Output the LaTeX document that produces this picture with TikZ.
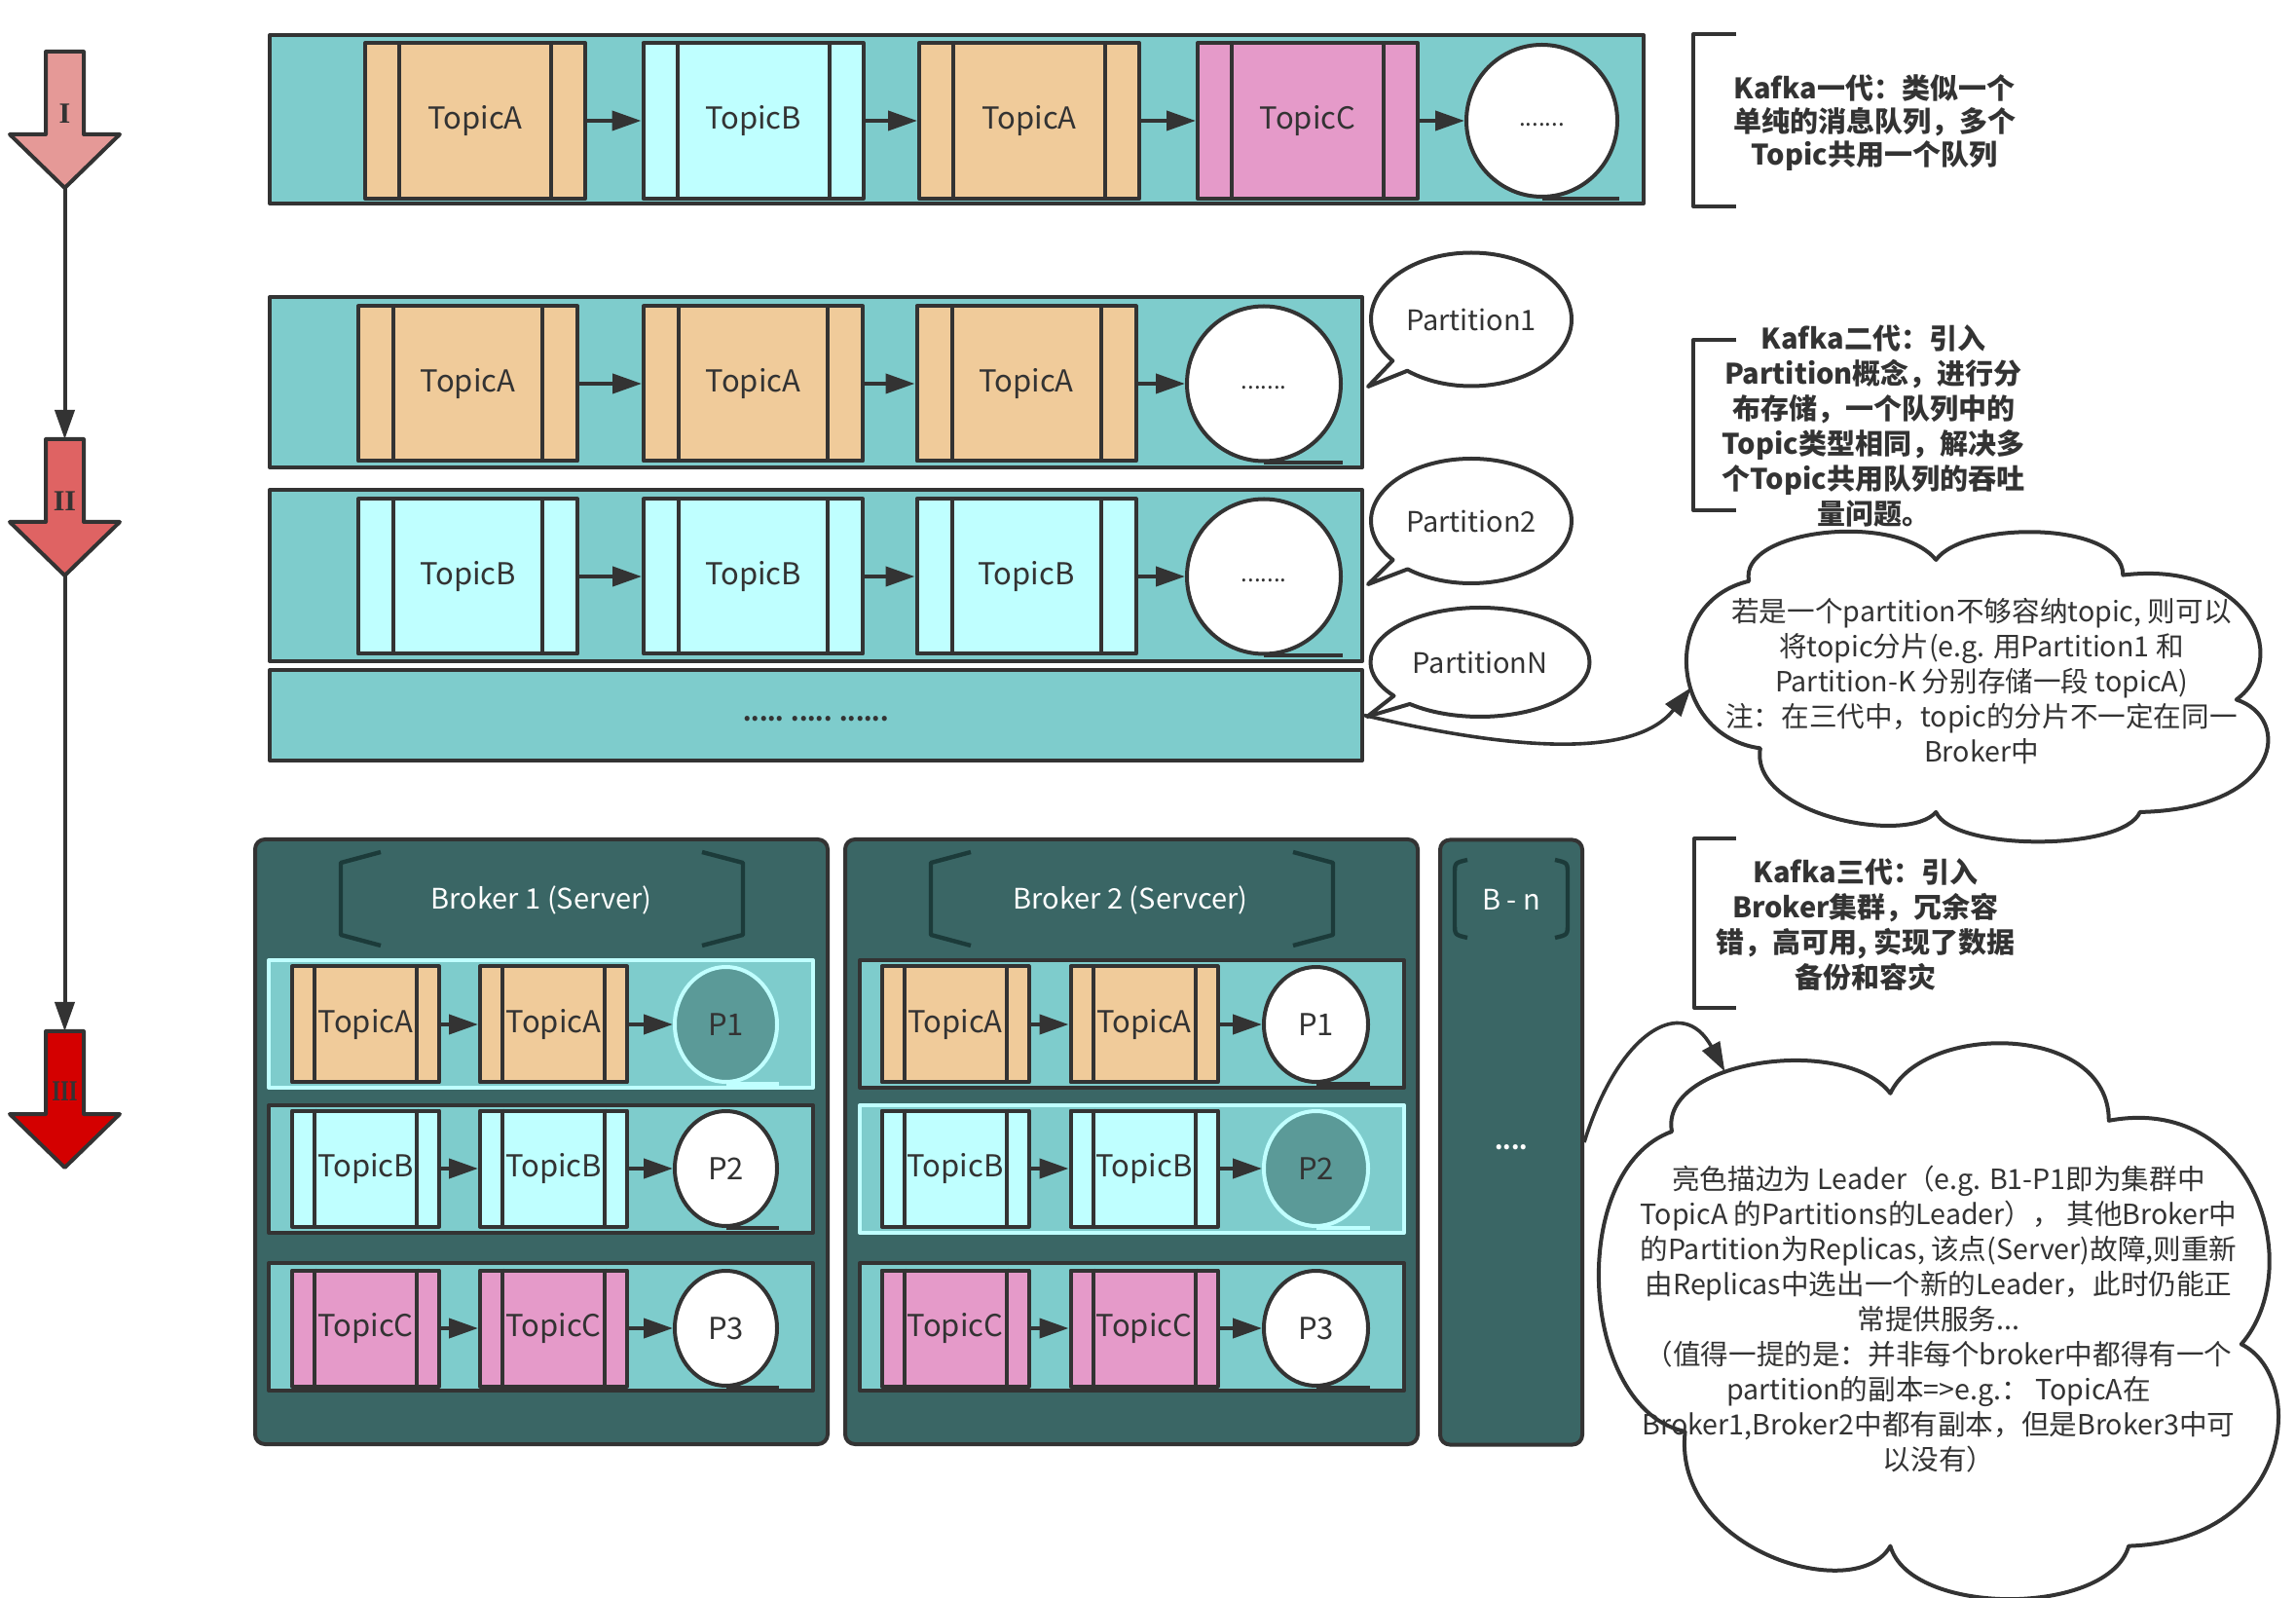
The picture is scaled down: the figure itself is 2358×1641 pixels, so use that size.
\documentclass[tikz,border=0pt]{standalone}
\usepackage{fontspec}
\setmainfont{Noto Sans CJK SC}
\newfontfamily\romfont{Liberation Serif}
\usetikzlibrary{arrows.meta,shapes.geometric,shapes.callouts}
\definecolor{cont}{HTML}{7ECCCC}
\definecolor{ta}{HTML}{F0CB9A}
\definecolor{tbc}{HTML}{BFFFFF}
\definecolor{tcc}{HTML}{E59AC9}
\definecolor{brk}{HTML}{3A6665}
\definecolor{brkdark}{HTML}{1C3B3A}
\definecolor{ink}{HTML}{333333}
\definecolor{hl}{HTML}{C0FFFF}
\definecolor{hlfill}{HTML}{5B9A98}
\definecolor{arI}{HTML}{E59997}
\definecolor{arII}{HTML}{DF6363}
\definecolor{arIII}{HTML}{D40000}

\newcommand\topicbox[8]{%
  \node[tb, fill=#7, minimum width=#4pt, minimum height=#5pt] (#1) at (#2,#3) {#8};
  \draw[ink, line width=2pt] ([xshift=#6pt]#1.north west) -- ([xshift=#6pt]#1.south west)
    ([xshift=-#6pt]#1.north east) -- ([xshift=-#6pt]#1.south east);}
\newcommand\tapenode[7]{%
  \node[tapest, minimum width=#4pt, minimum height=#5pt, #6] (#1) at (#2,#3) {#7};
  \draw[ink, line width=2pt, #6] (#1.south) -- (#1.south -| #1.east);}
\newcommand\blockarrow[3]{%
  \draw[ink, line width=2pt, fill=#3] (47,#2) -- (86,#2) -- (86,#2+85) -- (123,#2+85)
    -- (66.5,#2+140) -- (10,#2+85) -- (47,#2+85) -- cycle;
  \coordinate (#1top) at (66.5,#2);
  \coordinate (#1tip) at (66.5,#2+140);}
\newcommand\dotstxt{{\fontsize{12}{14}\selectfont\vphantom{Ag}.......}}

\begin{document}
\begin{tikzpicture}[x=0.5pt,y=-0.5pt,line join=round,
  contst/.style={draw=ink, line width=2pt, fill=cont, inner sep=0, rectangle},
  tb/.style={draw=ink, line width=2pt, inner sep=0, rectangle, text=ink, font=\fontsize{15.5}{18}\selectfont},
  tapest/.style={draw=ink, line width=2pt, fill=white, ellipse, inner sep=0, text=ink, font=\fontsize{15.5}{18}\selectfont},
  flow/.style={draw=ink, line width=2pt, -{Triangle[length=15pt,width=10pt]}},
  curv/.style={draw=ink, line width=1.8pt, -{Triangle[length=15pt,width=10pt]}},
  callst/.style={ellipse callout, draw=ink, line width=2pt, fill=white, inner sep=0, text=ink, font=\fontsize{14.5}{17}\selectfont, callout pointer arc=12},
  brokst/.style={draw=ink, line width=2pt, fill=brk, rounded corners=5pt, inner sep=0, rectangle},
  bkbr/.style={draw=brkdark, line width=2.2pt},
  btitle/.style={text=white, inner sep=0, font=\fontsize{14.5}{17}\selectfont},
  numlbl/.style={text=ink, inner sep=0, font=\romfont\bfseries\fontsize{15}{15}\selectfont},
  kbr/.style={draw=ink, line width=2pt},
  ktxt/.style={text=ink, align=center, inner sep=0, font=\bfseries\fontsize{14.5}{18}\selectfont},
  ctxt/.style={text=ink, align=center, inner sep=0, font=\fontsize{14.3}{18}\selectfont}]
\fill[white] (0,0) rectangle (2358,1641);
\useasboundingbox (0,0) rectangle (2358,1641);

% ---------- timeline ----------
\blockarrow{aI}{53}{arI}
\blockarrow{aII}{451}{arII}
\blockarrow{aIII}{1059}{arIII}
\node[numlbl] (lI) at (66.5,117) {I};
\node[numlbl] (lII) at (66.5,515) {II};
\node[numlbl] (lIII) at (66.5,1121) {\scalebox{0.75}[1]{III}};
\draw[flow] (aItip) -- (aIItop);
\draw[flow] (aIItip) -- (aIIItop);

% ---------- generation I ----------
\node[contst, minimum width=705.5pt, minimum height=86.5pt] (rowI) at (982.5,122.5) {};
\topicbox{iA1}{488}{124}{113}{80}{18.5}{ta}{TopicA}
\topicbox{iB}{773.5}{124}{113}{80}{18.5}{tbc}{TopicB}
\topicbox{iA2}{1057}{124}{113}{80}{18.5}{ta}{TopicA}
\topicbox{iC}{1343}{124}{113}{80}{18.5}{tcc}{TopicC}
\tapenode{iE}{1583.5}{124}{77.5}{78}{}{\dotstxt}
\draw[flow] (iA1.east) -- (iB.west);
\draw[flow] (iB.east) -- (iA2.west);
\draw[flow] (iA2.east) -- (iC.west);
\draw[flow] (iC.east) -- (iE.west);

\draw[kbr] (1783,35) -- (1739,35) -- (1739,212) -- (1783,212);
\node[ktxt, font=\bfseries\fontsize{14.5}{17}\selectfont] (kI) at (1925,126) {Kafka一代：类似一个\\单纯的消息队列，多个\\Topic共用一个队列};

% ---------- generation II ----------
\node[contst, minimum width=561pt, minimum height=87.5pt] (rowIIa) at (838,392.5) {};
\topicbox{iiA1}{480.5}{394}{112.5}{79.5}{19}{ta}{TopicA}
\topicbox{iiA2}{773.5}{394}{112.5}{79.5}{19}{ta}{TopicA}
\topicbox{iiA3}{1054}{394}{112.5}{79.5}{19}{ta}{TopicA}
\tapenode{iiEa}{1298}{394}{79}{79.5}{}{\dotstxt}
\draw[flow] (iiA1.east) -- (iiA2.west);
\draw[flow] (iiA2.east) -- (iiA3.west);
\draw[flow] (iiA3.east) -- (iiEa.west);

\node[contst, minimum width=561pt, minimum height=88pt] (rowIIb) at (838,591) {};
\topicbox{iiB1}{480.5}{592}{112.5}{79.5}{19}{tbc}{TopicB}
\topicbox{iiB2}{773.5}{592}{112.5}{79.5}{19}{tbc}{TopicB}
\topicbox{iiB3}{1054}{592}{112.5}{79.5}{19}{tbc}{TopicB}
\tapenode{iiEb}{1298}{592}{79}{79.5}{}{\dotstxt}
\draw[flow] (iiB1.east) -- (iiB2.west);
\draw[flow] (iiB2.east) -- (iiB3.west);
\draw[flow] (iiB3.east) -- (iiEb.west);

\node[contst, minimum width=561pt, minimum height=46.5pt, text=ink, font=\bfseries\fontsize{12}{14}\selectfont] (rowIIc) at (838,734.5) {\vphantom{Ag}..... ..... ......};

\node[callst, minimum width=103pt, minimum height=68.5pt, callout absolute pointer={(1405,397)}] (cp1) at (1511,328) {Partition1};
\node[callst, minimum width=103pt, minimum height=64pt, callout absolute pointer={(1405,600)}] (cp2) at (1511,535) {Partition2};
\node[callst, minimum width=112.5pt, minimum height=56pt, callout absolute pointer={(1404,736)}] (cpN) at (1520,680) {PartitionN};

% cloud 1
\begin{scope}[shift={(1738,550)},xscale=582,yscale=312]
  \draw[ink, line width=2pt, fill=white] (0.12,0.70) .. controls (-0.04,0.66) and (-0.06,0.22) .. (0.10,0.15)
    .. controls (0.08,-0.02) and (0.36,-0.08) .. (0.43,0.08)
    .. controls (0.48,-0.05) and (0.76,-0.05) .. (0.76,0.13)
    .. controls (0.98,0.08) and (1.06,0.40) .. (0.96,0.54)
    .. controls (1.06,0.60) and (1.04,0.90) .. (0.79,0.91)
    .. controls (0.76,1.04) and (0.46,1.04) .. (0.43,0.91)
    .. controls (0.38,1.02) and (0.10,0.92) .. (0.12,0.70) -- cycle;
  \coordinate (c1in) at (-0.002,0.50);
\end{scope}
\node[ctxt] (c1t) at (2035,700) {若是一个partition不够容纳topic, 则可以\\将topic分片(e.g. 用Partition1 和\\Partition-K 分别存储一段 topicA)\\注：在三代中，topic的分片不一定在同一\\Broker中};
\draw[curv] (rowIIc.east) .. controls (1560,772) and (1680,778) .. (c1in);

\draw[kbr] (1783,349) -- (1739,349) -- (1739,524) -- (1783,524);
\node[ktxt] (kII) at (1924,437) {Kafka二代：引入\\Partition概念，进行分\\布存储，一个队列中的\\Topic类型相同，解决多\\个Topic共用队列的吞吐\\量问题。};

% ---------- generation III ----------
% broker 1
\node[brokst, minimum width=294pt, minimum height=310.5pt] (bk1) at (556,1172.5) {};
\draw[bkbr] (391,875) -- (350,886) -- (350,960) -- (391,971);
\draw[bkbr] (721,875) -- (763,886) -- (763,960) -- (721,971);
\node[btitle] (bk1t) at (556,924) {Broker 1 (Server)};

\node[contst, draw=hl, minimum width=279.5pt, minimum height=65.5pt] (b1r1) at (555.5,1051.5) {};
\topicbox{b1a1}{375.5}{1052}{75.5}{59.5}{12.5}{ta}{TopicA}
\topicbox{b1a2}{568.5}{1052}{75.5}{59.5}{12.5}{ta}{TopicA}
\tapenode{b1p1}{745.5}{1052}{52.5}{59}{draw=hl,fill=hlfill}{P1}
\draw[flow] (b1a1.east) -- (b1a2.west);
\draw[flow] (b1a2.east) -- (b1p1.west);

\node[contst, minimum width=279.5pt, minimum height=65.5pt] (b1r2) at (555.5,1200.5) {};
\topicbox{b1b1}{375.5}{1200}{75.5}{59.5}{12.5}{tbc}{TopicB}
\topicbox{b1b2}{568.5}{1200}{75.5}{59.5}{12.5}{tbc}{TopicB}
\tapenode{b1p2}{745.5}{1200}{52.5}{59}{}{P2}
\draw[flow] (b1b1.east) -- (b1b2.west);
\draw[flow] (b1b2.east) -- (b1p2.west);

\node[contst, minimum width=279.5pt, minimum height=65.5pt] (b1r3) at (555.5,1362.5) {};
\topicbox{b1c1}{375.5}{1364}{75.5}{59.5}{12.5}{tcc}{TopicC}
\topicbox{b1c2}{568.5}{1364}{75.5}{59.5}{12.5}{tcc}{TopicC}
\tapenode{b1p3}{745.5}{1364}{52.5}{59}{}{P3}
\draw[flow] (b1c1.east) -- (b1c2.west);
\draw[flow] (b1c2.east) -- (b1p3.west);

% broker 2
\node[brokst, minimum width=294pt, minimum height=310.5pt] (bk2) at (1162,1172.5) {};
\draw[bkbr] (997,875) -- (956,886) -- (956,960) -- (997,971);
\draw[bkbr] (1328,875) -- (1369,886) -- (1369,960) -- (1328,971);
\node[btitle] (bk2t) at (1161,924) {Broker 2 (Servcer)};

\node[contst, minimum width=279.5pt, minimum height=65.5pt] (b2r1) at (1162.5,1051.5) {};
\topicbox{b2a1}{981}{1052}{75.5}{59.5}{12.5}{ta}{TopicA}
\topicbox{b2a2}{1175}{1052}{75.5}{59.5}{12.5}{ta}{TopicA}
\tapenode{b2p1}{1351.5}{1052}{53.5}{59}{}{P1}
\draw[flow] (b2a1.east) -- (b2a2.west);
\draw[flow] (b2a2.east) -- (b2p1.west);

\node[contst, draw=hl, minimum width=279.5pt, minimum height=65.5pt] (b2r2) at (1162.5,1200.5) {};
\topicbox{b2b1}{981}{1200}{75.5}{59.5}{12.5}{tbc}{TopicB}
\topicbox{b2b2}{1175}{1200}{75.5}{59.5}{12.5}{tbc}{TopicB}
\tapenode{b2p2}{1351.5}{1200}{53.5}{59}{draw=hl,fill=hlfill}{P2}
\draw[flow] (b2b1.east) -- (b2b2.west);
\draw[flow] (b2b2.east) -- (b2p2.west);

\node[contst, minimum width=279.5pt, minimum height=65.5pt] (b2r3) at (1162.5,1362.5) {};
\topicbox{b2c1}{981}{1364}{75.5}{59.5}{12.5}{tcc}{TopicC}
\topicbox{b2c2}{1175}{1364}{75.5}{59.5}{12.5}{tcc}{TopicC}
\tapenode{b2p3}{1351.5}{1364}{53.5}{59}{}{P3}
\draw[flow] (b2c1.east) -- (b2c2.west);
\draw[flow] (b2c2.east) -- (b2p3.west);

% broker n
\node[brokst, minimum width=73pt, minimum height=310.5pt] (bkn) at (1552,1173) {};
\draw[bkbr] (1507,883) .. controls (1494,886) .. (1494,898) -- (1494,948) .. controls (1494,960) .. (1507,963);
\draw[bkbr] (1597,883) .. controls (1610,886) .. (1610,898) -- (1610,948) .. controls (1610,960) .. (1597,963);
\node[btitle] (bknt) at (1552,924) {B - n};
\node[btitle, font=\bfseries\fontsize{12}{14}\selectfont] (bknd) at (1552,1174) {\vphantom{Ag}....};

\draw[kbr] (1783,861) -- (1740,861) -- (1740,1035) -- (1783,1035);
\node[ktxt] (kIII) at (1916,950) {Kafka三代：引入\\Broker集群，冗余容\\错，高可用, 实现了数据\\备份和容灾};

% cloud 2
\begin{scope}[shift={(1649,1078)},xscale=680,yscale=560]
  \draw[ink, line width=2pt, fill=white] (0.12,0.70) .. controls (-0.04,0.66) and (-0.06,0.22) .. (0.10,0.15)
    .. controls (0.08,0.02) and (0.36,-0.03) .. (0.43,0.08)
    .. controls (0.48,-0.05) and (0.76,-0.05) .. (0.76,0.13)
    .. controls (0.98,0.08) and (1.06,0.40) .. (0.96,0.54)
    .. controls (1.06,0.60) and (1.04,0.90) .. (0.79,0.91)
    .. controls (0.76,1.04) and (0.46,1.04) .. (0.43,0.91)
    .. controls (0.38,1.02) and (0.10,0.92) .. (0.12,0.70) -- cycle;
  \coordinate (c2in) at (0.18,0.04);
\end{scope}
\node[ctxt] (c2t) at (1991,1355) {亮色描边为 Leader（e.g. B1-P1即为集群中\\TopicA 的Partitions的Leader）， 其他Broker中\\的Partition为Replicas, 该点(Server)故障,则重新\\由Replicas中选出一个新的Leader，此时仍能正\\常提供服务...\\（值得一提的是：并非每个broker中都得有一个\\partition的副本=>e.g.： TopicA在\\Broker1,Broker2中都有副本，但是Broker3中可\\以没有）};
\draw[curv] (bkn.east) .. controls (1662,1060) and (1728,1020) .. (c2in);
\end{tikzpicture}
\end{document}
